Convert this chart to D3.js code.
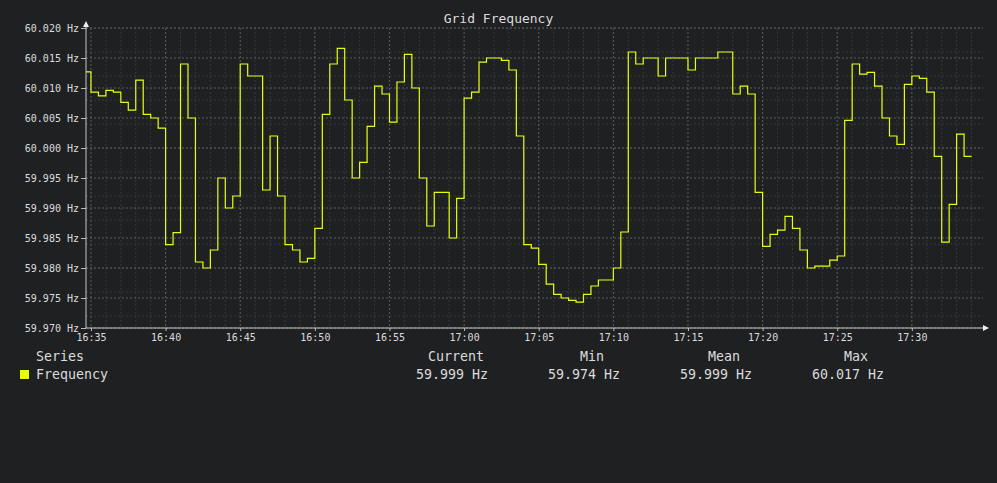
<!DOCTYPE html>
<html>
<head>
<meta charset="utf-8">
<script src="https://cdn.jsdelivr.net/npm/d3@7"></script>
<style>
  body { margin: 0; background: #1f2022; }
  text { font-family: "DejaVu Sans Mono", monospace; fill: #dcdcdc; }
</style>
</head>
<body>
<svg id="chart" width="997" height="483"></svg>
<script>
// samples every 30 s, first one at 16:34:30
const sampleStart = '16:34:30';
const sampleSeconds = 30;
const frequency = [
  60.0127, 60.0093, 60.0087, 60.0096, 60.0093, 60.0076, 60.0063, 60.0113, 60.0056, 60.0050,
  60.0033, 59.9839, 59.9859, 60.0140, 60.0050, 59.9810, 59.9800, 59.9830, 59.9950, 59.9900,
  59.9920, 60.0140, 60.0120, 60.0120, 59.9930, 60.0020, 59.9920, 59.9839, 59.9830, 59.9810,
  59.9816, 59.9866, 60.0056, 60.0140, 60.0166, 60.0080, 59.9950, 59.9976, 60.0036, 60.0103,
  60.0090, 60.0043, 60.0110, 60.0156, 60.0100, 59.9950, 59.9870, 59.9926, 59.9926, 59.9850,
  59.9916, 60.0083, 60.0093, 60.0143, 60.0150, 60.0150, 60.0146, 60.0130, 60.0020, 59.9839,
  59.9833, 59.9806, 59.9773, 59.9756, 59.9750, 59.9746, 59.9743, 59.9756, 59.9770, 59.9780,
  59.9780, 59.9800, 59.9860, 60.0160, 60.0140, 60.0150, 60.0150, 60.0120, 60.0150, 60.0150,
  60.0150, 60.0130, 60.0150, 60.0150, 60.0150, 60.0160, 60.0160, 60.0090, 60.0103, 60.0090,
  59.9926, 59.9836, 59.9856, 59.9863, 59.9886, 59.9866, 59.9830, 59.9800, 59.9803, 59.9803,
  59.9813, 59.9820, 60.0046, 60.0140, 60.0123, 60.0126, 60.0103, 60.0050, 60.0020, 60.0006,
  60.0106, 60.0120, 60.0116, 60.0093, 59.9986, 59.9843, 59.9906, 60.0023, 59.9986, 59.9986
];
const timeDomain = ['16:34:40', '17:34:46'];
const freqDomain = [59.970, 60.020];

const statNames = ['Current', 'Min', 'Mean', 'Max'];
const statValues = ['59.999 Hz', '59.974 Hz', '59.999 Hz', '60.017 Hz'];
const seriesName = 'Frequency';

const margin = { top: 28, right: 14, bottom: 155, left: 86 };
const svgWidth = 997;
const svgHeight = 483;
const width = svgWidth - margin.left - margin.right;
const height = svgHeight - margin.top - margin.bottom;
const lineColor = '#e6ff10';

const parseTime = d3.timeParse('%H:%M:%S');
const t0 = parseTime(sampleStart);
const data = frequency.map((v, i) => ({
  time: d3.timeSecond.offset(t0, i * sampleSeconds),
  value: v
}));

const svg = d3.select('#chart');

const xScale = d3.scaleTime()
  .range([0, width])
  .domain(timeDomain.map(parseTime));

const yScale = d3.scaleLinear()
  .range([height, 0])
  .domain(freqDomain);

// title
svg.append('text')
  .attr('x', svgWidth / 2)
  .attr('y', 23)
  .attr('text-anchor', 'middle')
  .style('font-size', '13px')
  .text('Grid Frequency');

const g = svg.append('g')
  .attr('transform', `translate(${margin.left}, ${margin.top})`);

// grid: minor first, major on top
const minorX = xScale.ticks(d3.timeMinute.every(1)).filter(d => d.getMinutes() % 5 !== 0);
const majorX = xScale.ticks(d3.timeMinute.every(5));
const minorY = yScale.ticks(20).filter((d, i) => i % 2 === 1);
const majorY = yScale.ticks(10);

const grid = g.append('g').attr('class', 'grid');

grid.selectAll('line.minor.x')
  .data(minorX)
  .join('line')
  .attr('class', 'minor x')
  .attr('x1', d => xScale(d)).attr('x2', d => xScale(d))
  .attr('y1', 0).attr('y2', height);

grid.selectAll('line.minor.y')
  .data(minorY)
  .join('line')
  .attr('class', 'minor y')
  .attr('x1', 0).attr('x2', width)
  .attr('y1', d => yScale(d)).attr('y2', d => yScale(d));

grid.selectAll('line.minor')
  .attr('stroke', '#36383b')
  .attr('stroke-width', 1)
  .attr('stroke-dasharray', '2,2');

grid.selectAll('line.major.x')
  .data(majorX)
  .join('line')
  .attr('class', 'major x')
  .attr('x1', d => xScale(d)).attr('x2', d => xScale(d))
  .attr('y1', 0).attr('y2', height);

grid.selectAll('line.major.y')
  .data(majorY)
  .join('line')
  .attr('class', 'major y')
  .attr('x1', 0).attr('x2', width)
  .attr('y1', d => yScale(d)).attr('y2', d => yScale(d));

grid.selectAll('line.major')
  .attr('stroke', '#5c5d60')
  .attr('stroke-width', 1)
  .attr('stroke-dasharray', '2,2');

// the series
g.append('clipPath')
  .attr('id', 'plot-clip')
  .append('rect')
  .attr('width', width)
  .attr('height', height);

const line = d3.line()
  .x(d => xScale(d.time))
  .y(d => yScale(d.value))
  .curve(d3.curveStepAfter);

g.append('path')
  .datum(data)
  .attr('clip-path', 'url(#plot-clip)')
  .attr('fill', 'none')
  .attr('stroke', lineColor)
  .attr('stroke-width', 1.2)
  .attr('d', line);

// axes
const xAxis = d3.axisBottom(xScale)
  .ticks(d3.timeMinute.every(5))
  .tickFormat(d3.timeFormat('%H:%M'))
  .tickSize(3)
  .tickPadding(3)
  .tickSizeOuter(0);

const yAxis = d3.axisLeft(yScale)
  .ticks(10)
  .tickFormat(d => d3.format('.3f')(d) + ' Hz')
  .tickSize(5)
  .tickPadding(2)
  .tickSizeOuter(0);

const gx = g.append('g')
  .attr('class', 'axis x')
  .attr('transform', `translate(0, ${height})`)
  .call(xAxis);

const gy = g.append('g')
  .attr('class', 'axis y')
  .call(yAxis);

[gx, gy].forEach(a => {
  a.select('.domain').remove();
  a.selectAll('.tick line').attr('stroke', '#bbbbbb');
  a.selectAll('.tick text')
    .style('font-size', '10px')
    .style('font-family', '"DejaVu Sans Mono", monospace')
    .attr('fill', '#dcdcdc');
});

// axis lines with arrow heads
const axisColor = '#c8c8c8';
g.append('line')
  .attr('x1', 0).attr('x2', 0)
  .attr('y1', height).attr('y2', -4)
  .attr('stroke', axisColor);
g.append('path')
  .attr('d', 'M0,-7 L-3,-1 L3,-1 Z')
  .attr('fill', '#eeeeee');
g.append('line')
  .attr('x1', 0).attr('x2', width + 2)
  .attr('y1', height).attr('y2', height)
  .attr('stroke', axisColor);
g.append('path')
  .attr('d', `M${width + 6},${height} L${width},${height - 3} L${width},${height + 3} Z`)
  .attr('fill', '#eeeeee');

// legend table
const legend = svg.append('g').attr('class', 'legend');
const headerY = 361;
const rowY = 379;
const statCenters = [456, 592, 724, 856];
const valueCenters = [452, 584, 716, 848];

legend.append('text')
  .attr('x', 36).attr('y', headerY)
  .style('font-size', '13.3px')
  .text('Series');

legend.append('rect')
  .attr('x', 20).attr('y', 370)
  .attr('width', 9).attr('height', 9)
  .attr('fill', lineColor);

legend.append('text')
  .attr('x', 36).attr('y', rowY)
  .style('font-size', '13.3px')
  .text(seriesName);

legend.selectAll('text.stat-name')
  .data(statNames)
  .join('text')
  .attr('class', 'stat-name')
  .attr('x', (d, i) => statCenters[i])
  .attr('y', headerY)
  .attr('text-anchor', 'middle')
  .style('font-size', '13.3px')
  .text(d => d);

legend.selectAll('text.stat-value')
  .data(statValues)
  .join('text')
  .attr('class', 'stat-value')
  .attr('x', (d, i) => valueCenters[i])
  .attr('y', rowY)
  .attr('text-anchor', 'middle')
  .style('font-size', '13.3px')
  .text(d => d);
</script>
</body>
</html>
